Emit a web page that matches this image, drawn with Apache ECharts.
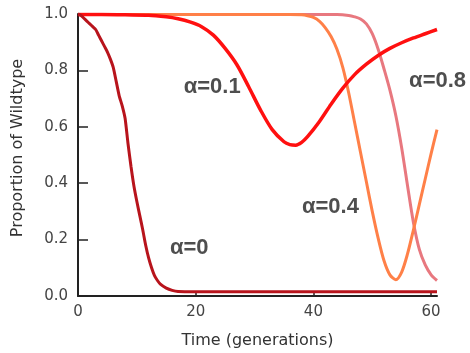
<!DOCTYPE html>
<html>
<head>
<meta charset="utf-8">
<script src="https://cdn.jsdelivr.net/npm/echarts@6/dist/echarts.min.js"></script>
<style>
  html, body { margin: 0; padding: 0; background: #fff; }
  #chart { width: 470px; height: 353px; }
</style>
</head>
<body>
<div id="chart"></div>
<script>
// 各曲线数据
const x0 = [0, 0.5, 1, 1.5, 2, 2.5, 3, 3.5, 4, 4.5, 5, 5.5, 6, 6.5, 7, 7.5, 8, 8.5, 9, 9.5, 10, 10.5, 11, 11.5, 12, 12.5, 13, 13.5, 14, 15, 16, 17, 20, 61];
const y0 = [1.0, 0.995, 0.985, 0.975, 0.965, 0.955, 0.945, 0.925, 0.905, 0.885, 0.865, 0.84, 0.81, 0.76, 0.71, 0.675, 0.63, 0.54, 0.46, 0.39, 0.335, 0.285, 0.235, 0.18, 0.135, 0.1, 0.072, 0.055, 0.042, 0.028, 0.02, 0.016, 0.015, 0.015];

const x01 = [0, 4, 8, 12, 15, 17, 19, 21, 23, 25, 27, 29, 31, 33, 35, 36, 37, 38, 39, 41, 43, 45, 47, 49, 51, 53, 55, 57, 59, 61];
const y01 = [0.998, 0.998, 0.997, 0.996, 0.99, 0.983, 0.972, 0.955, 0.925, 0.878, 0.82, 0.742, 0.66, 0.59, 0.547, 0.537, 0.535, 0.545, 0.565, 0.618, 0.68, 0.737, 0.785, 0.822, 0.853, 0.878, 0.898, 0.915, 0.93, 0.945];

const x04 = [0, 12, 24, 36, 38, 39, 40, 41, 42, 43, 44, 45, 46, 47, 48, 49, 50, 51, 52, 53, 54, 55, 56, 57, 58, 59, 60, 61];
const y04 = [0.998, 0.998, 0.998, 0.998, 0.997, 0.994, 0.988, 0.975, 0.952, 0.92, 0.875, 0.81, 0.72, 0.615, 0.51, 0.405, 0.30, 0.205, 0.125, 0.075, 0.058, 0.085, 0.15, 0.235, 0.325, 0.415, 0.505, 0.59];

const x08 = [0, 11, 22, 33, 44, 46, 47, 48, 49, 50, 51, 52, 53, 54, 55, 56, 57, 58, 59, 60, 61];
const y08 = [0.998, 0.998, 0.998, 0.998, 0.998, 0.995, 0.99, 0.982, 0.965, 0.93, 0.875, 0.805, 0.73, 0.64, 0.525, 0.39, 0.26, 0.165, 0.11, 0.075, 0.055];

// 曲线标注
const labelText = ['α=0', 'α=0.1', 'α=0.4', 'α=0.8'];
const labelX = [18.9, 22.8, 42.9, 61.1];
const labelY = [0.17, 0.741, 0.316, 0.762];

function pairs(xs, ys) {
    return xs.map(function (x, i) { return [x, ys[i]]; });
}

let chart = echarts.init(document.getElementById('chart'));
let option = {
    animation: false,
    grid: { left: 78, top: 14, right: 33, bottom: 57, outerBoundsMode: 'none' },
    xAxis: {
        type: 'value',
        min: 0,
        max: 61,
        interval: 20,
        name: 'Time (generations)',
        nameLocation: 'middle',
        nameGap: 37,
        nameTextStyle: { fontFamily: 'DejaVu Sans', fontSize: 16, color: '#333' },
        axisLine: { lineStyle: { color: '#222', width: 2 } },
        axisTick: { inside: true, length: 5, lineStyle: { color: '#222', width: 1.5 } },
        axisLabel: { fontFamily: 'DejaVu Sans', fontSize: 15, color: '#444', margin: 9, showMaxLabel: false },
        splitLine: { show: false }
    },
    yAxis: {
        type: 'value',
        min: 0,
        max: 1,
        interval: 0.2,
        name: 'Proportion of Wildtype',
        nameLocation: 'middle',
        nameGap: 52,
        nameTextStyle: { fontFamily: 'DejaVu Sans', fontSize: 16, color: '#333', padding: [0, 0, 0, 14] },
        axisLine: { show: true, lineStyle: { color: '#222', width: 2 } },
        axisTick: { show: true, inside: true, length: 10, lineStyle: { color: '#222', width: 1.5 } },
        axisLabel: {
            fontFamily: 'DejaVu Sans', fontSize: 15, color: '#444', margin: 10,
            formatter: function (v) { return v.toFixed(1); }
        },
        splitLine: { show: false }
    },
    series: [
        {
            type: 'line', data: pairs(x08, y08), smooth: 0.3, symbol: 'none',
            lineStyle: { color: '#e8787f', width: 3 }
        },
        {
            type: 'line', data: pairs(x04, y04), smooth: 0.3, symbol: 'none',
            lineStyle: { color: '#ff8048', width: 3 }
        },
        {
            type: 'line', data: pairs(x01, y01), smooth: 0.3, symbol: 'none',
            lineStyle: { color: '#ff1010', width: 3.5 }
        },
        {
            type: 'line', data: pairs(x0, y0), smooth: 0.2, symbol: 'none',
            lineStyle: { color: '#b8141c', width: 3 }
        },
        {
            type: 'scatter', symbolSize: 0, silent: true, clip: false,
            data: labelText.map(function (t, i) { return { value: [labelX[i], labelY[i]], name: t }; }),
            label: {
                show: true, position: 'inside', formatter: '{b}',
                fontFamily: 'Liberation Sans', fontWeight: 'bold', fontSize: 22, color: '#222'
            }
        }
    ]
};
chart.setOption(option);
</script>
</body>
</html>
